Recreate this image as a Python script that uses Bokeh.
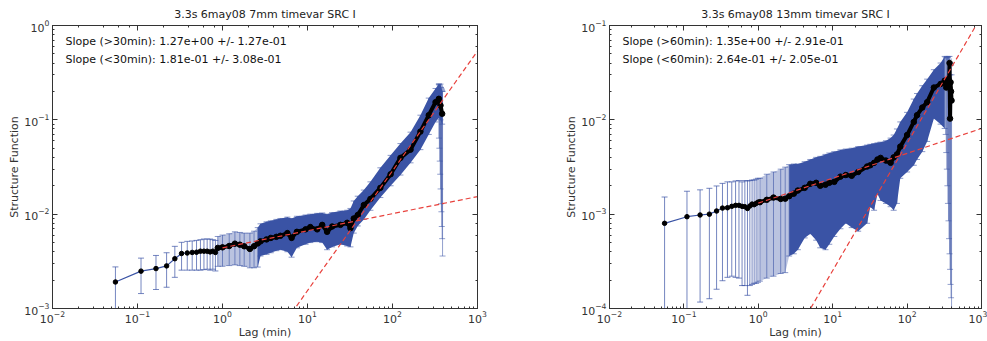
from bokeh.plotting import figure
from bokeh.models import (ColumnDataSource, Whisker, TeeHead, LogAxis, Label, Range1d,
                          CustomJSTickFormatter)
from bokeh.layouts import row
from bokeh.embed import file_html
from bokeh.resources import INLINE

# ---------------- data: left panel (7mm) ----------------
L_title = "3.3s 6may08 7mm timevar SRC I"
L_texts = ["Slope (>30min): 1.27e+00 +/- 1.27e-01",
           "Slope (<30min): 1.81e-01 +/- 3.08e-01"]
L_ylim = [1e-3, 1e0]

L_lag_sparse = [0.055, 0.11, 0.165, 0.22, 0.275, 0.33, 0.385, 0.44, 0.495, 0.55,
                0.605, 0.66, 0.715, 0.77, 0.825]
L_sf_sparse = [1.91e-3, 2.49e-3, 2.65e-3, 2.83e-3, 3.37e-3, 3.83e-3, 3.88e-3, 3.93e-3, 3.95e-3, 4.05e-3,
               4.05e-3, 4.05e-3, 3.98e-3, 4.05e-3, 3.93e-3]
L_lo_sparse = [9.0e-4, 1.44e-3, 1.59e-3, 1.68e-3, 2.14e-3, 2.55e-3, 2.55e-3, 2.55e-3, 2.55e-3, 2.55e-3,
               2.58e-3, 2.61e-3, 2.55e-3, 2.61e-3, 2.5e-3]
L_hi_sparse = [2.76e-3, 3.42e-3, 3.65e-3, 3.9e-3, 4.56e-3, 5.03e-3, 5.15e-3, 5.2e-3, 5.27e-3, 5.36e-3,
               5.45e-3, 5.45e-3, 5.45e-3, 5.36e-3, 5.27e-3]

L_lag_dense = [0.88, 1.0, 1.2, 1.4, 1.6, 1.8, 2.1, 2.35, 2.6,
               2.8, 3.3, 3.7, 4.3, 4.8, 5.8, 6.5, 7.5, 9.5, 10.8,
               13, 14.9, 17, 19.5, 24.4, 29.3, 32, 35, 39, 46,
               55, 72, 95, 124, 163, 213, 267, 321, 351, 367, 384]
L_sf_dense = [4.39e-3, 4.45e-3, 4.6e-3, 4.87e-3, 4.75e-3, 4.57e-3, 4.28e-3, 4.57e-3, 4.9e-3,
              5.15e-3, 5.4e-3, 5.6e-3, 5.75e-3, 5.9e-3, 6.3e-3, 5.6e-3, 6.5e-3, 6.9e-3, 7.3e-3,
              6.9e-3, 7.7e-3, 6.5e-3, 7.4e-3, 7.7e-3, 8.1e-3, 7.1e-3, 9.0e-3, 9.8e-3, 1.25e-2,
              1.45e-2, 1.9e-2, 2.65e-2, 3.95e-2, 4.83e-2, 7.5e-2, 0.112, 0.154, 0.167, 0.142, 0.116]
L_lo_dense = [2.8e-3, 2.8e-3, 2.85e-3, 2.9e-3, 2.85e-3, 2.8e-3, 2.7e-3, 2.7e-3, 2.75e-3,
              3.6e-3, 3.75e-3, 3.9e-3, 4.1e-3, 4.2e-3, 4.0e-3, 3.5e-3, 4.4e-3, 4.8e-3, 5.0e-3,
              5.1e-3, 5.0e-3, 4.2e-3, 4.5e-3, 4.8e-3, 4.6e-3, 4.5e-3, 6.3e-3, 7.5e-3, 8.8e-3,
              1.1e-2, 1.5e-2, 2.0e-2, 2.6e-2, 3.5e-2, 4.83e-2, 7.0e-2, 9.5e-2, 0.105, 0.10, 0.09]
L_hi_dense = [5.8e-3, 6.0e-3, 6.2e-3, 6.5e-3, 6.4e-3, 6.3e-3, 6.3e-3, 6.6e-3, 7.2e-3,
              7.9e-3, 8.3e-3, 8.5e-3, 8.8e-3, 9.0e-3, 9.3e-3, 9.0e-3, 9.5e-3, 9.8e-3, 1.0e-2,
              1.02e-2, 1.03e-2, 1.0e-2, 1.04e-2, 1.08e-2, 1.1e-2, 1.15e-2, 1.38e-2, 1.55e-2, 1.8e-2,
              2.2e-2, 3.1e-2, 4.2e-2, 5.6e-2, 7.4e-2, 0.112, 0.170, 0.215, 0.239, 0.239, 0.20]

L_lag_end = [352, 356, 360, 364, 368, 372, 376, 380, 384, 388]
L_sf_end = [0.16, 0.15, 0.14, 0.13, 0.125, 0.12, 0.12, 0.118, 0.115, 0.11]
L_lo_end = [6.4e-2, 5.0e-2, 3.65e-2, 2.65e-2, 1.85e-2, 1.29e-2, 1.06e-2, 7.4e-3, 5.5e-3, 3.6e-3]
L_hi_end = [0.24, 0.235, 0.23, 0.225, 0.22, 0.22, 0.215, 0.21, 0.205, 0.2]

L_fit_lag = [1.0, 1000.0]
L_fit_steep = [8.3e-5, 0.536]
L_fit_flat = [4.4e-3, 1.535e-2]

# ---------------- data: right panel (13mm) ----------------
R_title = "3.3s 6may08 13mm timevar SRC I"
R_texts = ["Slope (>60min): 1.35e+00 +/- 2.91e-01",
           "Slope (<60min): 2.64e-01 +/- 2.05e-01"]
R_ylim = [1e-4, 1e-1]

R_lag_sparse = [0.055, 0.11, 0.165, 0.22, 0.275, 0.33, 0.385, 0.44, 0.495, 0.55,
                0.605, 0.66, 0.715, 0.77, 0.825, 0.88, 0.935, 0.99]
R_sf_sparse = [8.0e-4, 9.4e-4, 9.8e-4, 1.0e-3, 1.08e-3, 1.16e-3, 1.17e-3, 1.21e-3, 1.24e-3, 1.24e-3,
               1.21e-3, 1.2e-3, 1.15e-3, 1.22e-3, 1.28e-3, 1.26e-3, 1.3e-3, 1.34e-3]
R_lo_sparse = [5e-5, 5e-5, 1.17e-4, 1.27e-4, 1.6e-4, 1.97e-4, 2.14e-4, 2.2e-4, 2.14e-4, 2.1e-4,
               1.75e-4, 1.75e-4, 1.38e-4, 1.75e-4, 1.8e-4, 1.85e-4, 1.85e-4, 1.9e-4]
R_hi_sparse = [1.52e-3, 1.75e-3, 1.81e-3, 1.88e-3, 1.99e-3, 2.12e-3, 2.2e-3, 2.2e-3, 2.25e-3, 2.27e-3,
               2.2e-3, 2.27e-3, 2.25e-3, 2.27e-3, 2.3e-3, 2.3e-3, 2.35e-3, 2.4e-3]

R_lag_dense = [1.05, 1.3, 1.6, 2.0, 2.3, 2.6, 3.0, 3.4, 4.2, 5.0,
               6.0, 6.8, 8.0, 9.0, 10.5, 12.7, 15, 18, 22, 29,
               32, 36, 40, 44, 52, 60, 66, 73, 81, 100,
               123, 136, 160, 186, 229, 282, 320]
R_sf_dense = [1.34e-3, 1.42e-3, 1.5e-3, 1.45e-3, 1.46e-3, 1.55e-3, 1.65e-3, 1.78e-3, 1.9e-3, 2.1e-3,
              2.15e-3, 2.0e-3, 2.05e-3, 2.15e-3, 2.2e-3, 2.5e-3, 2.6e-3, 2.55e-3, 2.8e-3, 3.2e-3,
              3.3e-3, 3.5e-3, 3.8e-3, 3.95e-3, 3.7e-3, 3.5e-3, 4.0e-3, 4.3e-3, 5.2e-3, 6.9e-3,
              9.5e-3, 1.12e-2, 1.35e-2, 1.54e-2, 2.2e-2, 2.4e-2, 2.6e-2]
R_lo_dense = [1.95e-4, 2.1e-4, 2.2e-4, 2.35e-4, 2.4e-4, 3.6e-4, 3.8e-4, 4.2e-4, 5.6e-4, 6.2e-4,
              5.3e-4, 4.4e-4, 4.2e-4, 4.8e-4, 5.8e-4, 7.0e-4, 8.0e-4, 7.2e-4, 6.6e-4, 8.0e-4,
              1.19e-3, 1.1e-3, 1.64e-3, 1.4e-3, 1.3e-3, 1.2e-3, 1.1e-3, 1.3e-3, 2.4e-3, 2.8e-3,
              3.3e-3, 3.8e-3, 4.6e-3, 5.9e-3, 1.03e-2, 9.0e-3, 8.1e-3]
R_hi_dense = [2.4e-3, 2.65e-3, 2.8e-3, 3.0e-3, 3.15e-3, 3.35e-3, 3.4e-3, 3.4e-3, 3.6e-3, 3.8e-3,
              4.0e-3, 4.1e-3, 4.3e-3, 4.45e-3, 4.6e-3, 4.8e-3, 4.9e-3, 5.0e-3, 5.2e-3, 5.4e-3,
              5.5e-3, 5.6e-3, 5.7e-3, 5.8e-3, 6.0e-3, 6.4e-3, 6.9e-3, 8.0e-3, 9.5e-3, 1.2e-2,
              1.66e-2, 1.9e-2, 2.3e-2, 2.7e-2, 3.4e-2, 4.0e-2, 4.7e-2]

R_lag_end = [330, 336, 342, 348, 354, 360, 366, 372, 378, 384, 390, 396]
R_sf_end = [2.4e-2, 2.2e-2, 2.6e-2, 2.3e-2, 2.5e-2, 2.7e-2, 2.2e-2, 4.0e-2, 1.03e-2, 2.5e-2, 2.0e-2, 1.6e-2]
R_lo_end = [7.0e-3, 4.5e-3, 3.0e-3, 2.0e-3, 1.3e-3, 8.5e-4, 5.5e-4, 3.8e-4, 2.6e-4, 1.8e-4, 1.3e-4, 5e-5]
R_hi_end = [4.6e-2, 4.5e-2, 4.7e-2, 4.6e-2, 4.6e-2, 4.7e-2, 4.4e-2, 4.7e-2, 3.0e-2, 4.0e-2, 3.8e-2, 3.0e-2]

R_fit_lag = [1.0, 1000.0]
R_fit_steep = [1.13e-5, 0.126]
R_fit_flat = [1.31e-3, 8.1e-3]

# ---------------- styling ----------------
FONT = "DejaVu Sans"
BLUE = "#3a53a5"
RED = "#e8413c"
INK = "#333333"
SOLID_FROM = 2.6  # lag beyond which the error bars merge into a solid band
FIG_H = 341
BORDER_TOP = 22
BORDER_BOTTOM = 32
FRAME_H = FIG_H - BORDER_TOP - BORDER_BOTTOM


def style_axis(ax, labels=True, label_standoff=3, title_standoff=0):
    ax.major_tick_in = 5
    ax.major_tick_out = 0
    ax.minor_tick_in = 2
    ax.minor_tick_out = 0
    ax.axis_line_color = INK
    ax.major_tick_line_color = INK
    ax.minor_tick_line_color = INK
    ax.major_label_text_font = FONT
    ax.major_label_text_color = INK
    if labels:
        ax.major_label_text_font_size = "11px"
        ax.major_label_standoff = label_standoff
    else:
        ax.formatter = CustomJSTickFormatter(code="return ''")
        ax.major_label_text_font_size = "1px"
        ax.major_label_text_alpha = 0
        ax.major_label_standoff = 0
    ax.axis_label_text_font = FONT
    ax.axis_label_text_font_size = "11px"
    ax.axis_label_text_font_style = "normal"
    ax.axis_label_text_color = INK
    ax.axis_label_standoff = title_standoff


def whiskers(p, lag, lo, hi, alpha):
    src = ColumnDataSource(dict(lag=lag, lo=lo, hi=hi))
    w = Whisker(source=src, base="lag", lower="lo", upper="hi", dimension="height",
                line_color=BLUE, line_alpha=alpha, line_width=1,
                upper_head=TeeHead(size=6, line_color=BLUE, line_alpha=alpha),
                lower_head=TeeHead(size=6, line_color=BLUE, line_alpha=alpha))
    p.add_layout(w)


def panel(title, ylim, texts, sp, dn, en, fit_lag, fit_steep, fit_flat,
          width, mbl, mbr, end_in_line):
    p = figure(width=width, height=FIG_H, x_axis_type="log", y_axis_type="log",
               x_range=Range1d(1e-2, 1e3), y_range=Range1d(ylim[0], ylim[1]),
               output_backend="svg", toolbar_location=None,
               min_border_left=mbl, min_border_right=mbr,
               min_border_top=BORDER_TOP, min_border_bottom=BORDER_BOTTOM,
               title=title, x_axis_label="Lag (min)", y_axis_label="Structure Function")
    p.grid.visible = False
    p.outline_line_color = INK
    p.background_fill_color = "white"
    p.border_fill_color = "white"
    p.title.align = "center"
    p.title.text_font = FONT
    p.title.text_font_size = "11px"
    p.title.text_font_style = "normal"
    p.title.text_color = "#222222"
    for ax in p.xaxis:
        style_axis(ax, label_standoff=2, title_standoff=0)
    for ax in p.yaxis:
        style_axis(ax, label_standoff=3, title_standoff=0)
    top = LogAxis()
    right = LogAxis()
    style_axis(top, labels=False)
    style_axis(right, labels=False)
    p.add_layout(top, "above")
    p.add_layout(right, "right")

    sl, ss, slo, shi = sp
    dl, ds, dlo, dhi = dn
    el, es, elo, ehi = en

    # merged error band (dense region)
    light = [i for i, v in enumerate(dl) if v <= SOLID_FROM]
    solid = [i for i, v in enumerate(dl) if v >= SOLID_FROM]
    p.varea(x=[dl[i] for i in light], y1=[dlo[i] for i in light], y2=[dhi[i] for i in light],
            fill_color=BLUE, fill_alpha=0.35)
    p.varea(x=[dl[i] for i in solid], y1=[dlo[i] for i in solid], y2=[dhi[i] for i in solid],
            fill_color=BLUE, fill_alpha=1.0)

    whiskers(p, sl, slo, shi, 0.7)
    whiskers(p, dl, dlo, dhi, 0.6)
    whiskers(p, el, elo, ehi, 0.55)

    # connecting line + points
    all_l = sl + dl + (el if end_in_line else [])
    all_s = ss + ds + (es if end_in_line else [])
    p.line(all_l, all_s, line_color=BLUE, line_width=1.2)
    p.scatter(sl, ss, size=4.5, marker="circle", fill_color="black", line_color="black")
    bl = dl + (el if end_in_line else [])
    bs = ds + (es if end_in_line else [])
    p.line(bl, bs, line_color="black", line_width=4)
    p.scatter(bl, bs, size=5.5, marker="circle", fill_color="black", line_color="black")

    # fits
    p.line(fit_lag, fit_steep, line_color=RED, line_width=1.2, line_dash="5 3")
    p.line(fit_lag, fit_flat, line_color=RED, line_width=1.2, line_dash="5 3")

    for t, dy in zip(texts, [20, 38]):
        p.add_layout(Label(x=13, y=FRAME_H - dy, x_units="screen", y_units="screen", text=t,
                           text_font=FONT, text_font_size="11px", text_color="#111111",
                           text_baseline="middle", text_align="left"))
    return p


pl = panel(L_title, L_ylim, L_texts,
           (L_lag_sparse, L_sf_sparse, L_lo_sparse, L_hi_sparse),
           (L_lag_dense, L_sf_dense, L_lo_dense, L_hi_dense),
           (L_lag_end, L_sf_end, L_lo_end, L_hi_end),
           L_fit_lag, L_fit_steep, L_fit_flat,
           width=530, mbl=52, mbr=53, end_in_line=False)
pr = panel(R_title, R_ylim, R_texts,
           (R_lag_sparse, R_sf_sparse, R_lo_sparse, R_hi_sparse),
           (R_lag_dense, R_sf_dense, R_lo_dense, R_hi_dense),
           (R_lag_end, R_sf_end, R_lo_end, R_hi_end),
           R_fit_lag, R_fit_steep, R_fit_flat,
           width=457, mbl=79, mbr=6, end_in_line=True)

layout = row(pl, pr)
open("out.html", "w").write(file_html(layout, INLINE))
